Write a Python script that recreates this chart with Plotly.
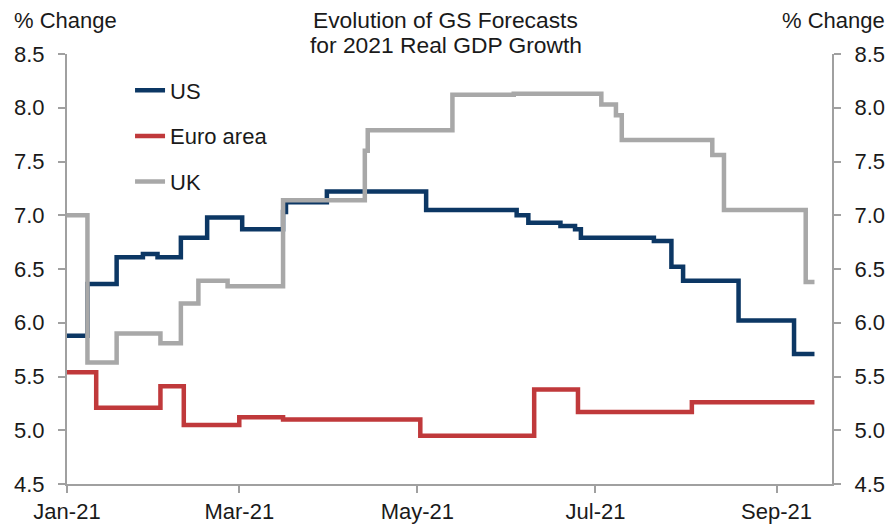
import plotly.graph_objects as go

# ---- data (change dates and values) ----
us_dates = ["2021-01-01", "2021-01-08", "2021-01-18", "2021-01-27", "2021-02-01", "2021-02-09",
            "2021-02-18", "2021-03-02", "2021-03-16", "2021-03-17", "2021-03-31", "2021-05-04",
            "2021-06-04", "2021-06-08", "2021-06-19", "2021-06-24", "2021-06-26", "2021-07-21",
            "2021-07-27", "2021-07-31", "2021-08-19", "2021-09-07", "2021-09-14"]
us_values = [5.88, 6.36, 6.61, 6.64, 6.61, 6.79,
             6.98, 6.87, 7.03, 7.12, 7.22, 7.05,
             7.00, 6.93, 6.90, 6.87, 6.79, 6.76,
             6.52, 6.39, 6.02, 5.71, 5.71]

ea_dates = ["2021-01-01", "2021-01-11", "2021-02-02", "2021-02-10", "2021-03-01", "2021-03-16",
            "2021-05-02", "2021-06-10", "2021-06-25", "2021-08-03", "2021-09-14"]
ea_values = [5.54, 5.21, 5.41, 5.05, 5.12, 5.10,
             4.95, 5.38, 5.17, 5.26, 5.26]

uk_dates = ["2021-01-01", "2021-01-08", "2021-01-18", "2021-02-02", "2021-02-09", "2021-02-15",
            "2021-02-25", "2021-03-16", "2021-04-13", "2021-04-14", "2021-05-13", "2021-06-03",
            "2021-07-03", "2021-07-08", "2021-07-10", "2021-08-10", "2021-08-14", "2021-09-11",
            "2021-09-14"]
uk_values = [7.00, 5.63, 5.90, 5.81, 6.18, 6.39,
             6.34, 7.14, 7.60, 7.79, 8.12, 8.13,
             8.03, 7.93, 7.70, 7.56, 7.05, 6.38,
             6.38]

tick_vals = ["2021-01-01", "2021-03-01", "2021-05-01", "2021-07-01", "2021-09-01"]
tick_text = ["Jan-21", "Mar-21", "May-21", "Jul-21", "Sep-21"]

title_line1 = "Evolution of GS Forecasts"
title_line2 = "for 2021 Real GDP Growth"
axis_label = "% Change"

NAVY = "#0C3764"
RED = "#C0393B"
GRAY = "#A8A8A8"
AXIS = "#A0A0A0"
TXT = "#1A1A1A"
FONT = "Liberation Sans, Arial, sans-serif"
FS = 22

fig = go.Figure()
for name, xs, ys, col, grp in [("US", us_dates, us_values, NAVY, "a"),
                               ("Euro area", ea_dates, ea_values, RED, "b"),
                               ("UK", uk_dates, uk_values, GRAY, "c")]:
    fig.add_trace(go.Scatter(x=xs, y=ys, name=name, mode="lines",
                             line=dict(color=col, width=4.5, shape="hv"),
                             legendgroup=grp))

# dummy trace to activate the right axis
fig.add_trace(go.Scatter(x=[None], y=[None], yaxis="y2", showlegend=False, hoverinfo="skip"))

axis_common = dict(showline=True, linecolor=AXIS, linewidth=2, ticks="outside",
                   tickcolor=AXIS, ticklen=7, tickwidth=1.5, showgrid=False, zeroline=False,
                   automargin=False, tickfont=dict(size=FS, color=TXT, family=FONT))

ann_font = dict(size=FS, color=TXT, family=FONT)
title_font = dict(size=22.8, color=TXT, family=FONT)

fig.update_layout(
    width=888, height=524,
    margin=dict(l=67, r=56, t=54, b=40, autoexpand=False),
    paper_bgcolor="white", plot_bgcolor="white",
    font=dict(family=FONT, size=FS, color=TXT),
    showlegend=True,
    legend=dict(x=0.0824, y=0.964, xanchor="left", yanchor="top",
                traceorder="grouped", tracegroupgap=14,
                bgcolor="rgba(0,0,0,0)", font=dict(size=FS, color=TXT, family=FONT)),
    xaxis=dict(type="date", range=["2021-01-01", "2021-09-20"], tickvals=tick_vals,
               ticktext=tick_text, ticklabelstandoff=0, **axis_common),
    yaxis=dict(range=[4.5, 8.5], dtick=0.5, tickformat=".1f", ticklabelstandoff=9, **axis_common),
    yaxis2=dict(range=[4.5, 8.5], dtick=0.5, tickformat=".1f", overlaying="y", side="right",
                matches="y", ticklabelstandoff=9, **axis_common),
    annotations=[
        dict(text=axis_label, xref="paper", yref="paper", x=-0.0719, y=1.079,
             xanchor="left", yanchor="middle", showarrow=False, font=ann_font),
        dict(text=axis_label, xref="paper", yref="paper", x=1.0715, y=1.079,
             xanchor="right", yanchor="middle", showarrow=False, font=ann_font),
        dict(text=title_line1, xref="paper", yref="paper", x=0.4954, y=1.079,
             xanchor="center", yanchor="middle", showarrow=False, font=title_font),
        dict(text=title_line2, xref="paper", yref="paper", x=0.4954, y=1.0198,
             xanchor="center", yanchor="middle", showarrow=False, font=title_font),
    ],
)

# remove the default 8px page margin so the 888x524 figure fills the window exactly
fig.write_html("out.html", config={"displayModeBar": False},
               post_script="document.body.style.margin='0';document.body.style.overflow='hidden';")
